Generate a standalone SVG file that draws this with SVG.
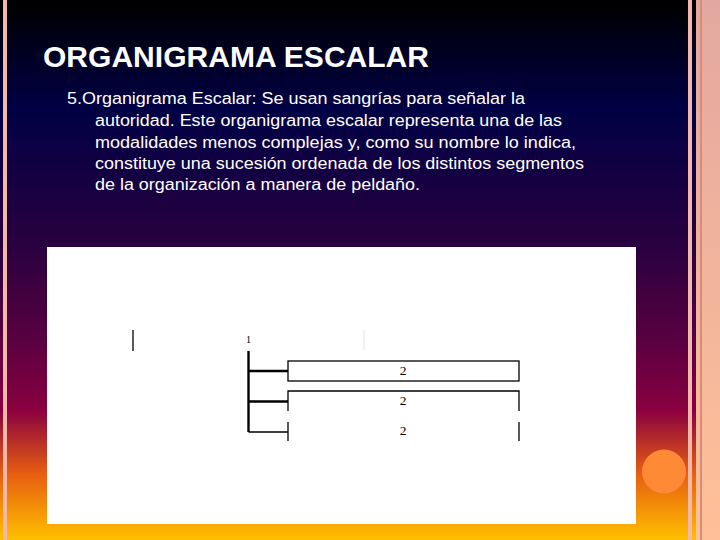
<svg xmlns="http://www.w3.org/2000/svg" width="720" height="540" viewBox="0 0 720 540">
<defs>
<linearGradient id="bg" x1="0" y1="0" x2="0" y2="1">
<stop offset="0" stop-color="#000000"/>
<stop offset="0.2" stop-color="#000045"/>
<stop offset="0.45" stop-color="#28003f"/>
<stop offset="0.62" stop-color="#560040"/>
<stop offset="0.76" stop-color="#8a0040"/>
<stop offset="0.88" stop-color="#e86010"/>
<stop offset="1" stop-color="#ffc000"/>
</linearGradient>
<linearGradient id="side" x1="0" y1="0" x2="0" y2="1">
<stop offset="0" stop-color="#e2a8a0"/>
<stop offset="1" stop-color="#ffc098"/>
</linearGradient>
</defs>
<style>
.title{font-family:"Liberation Sans",Arial,sans-serif;font-size:30px;font-weight:bold;fill:#ffffff}
.body{font-family:"Liberation Sans",Arial,sans-serif;font-size:16px;fill:#ffffff}
.box{fill:none;stroke:#000;stroke-width:1.3}
.lbl{font-family:"Liberation Serif","Times New Roman",serif;font-size:13.5px;fill:#000;text-anchor:middle}
.thick{stroke:#000;stroke-width:2.4;fill:none}
.thin{stroke:#000;stroke-width:1.3;fill:none}
</style>
<rect x="0" y="0" width="720" height="540" fill="url(#bg)"/>
<rect x="3" y="0" width="4" height="540" fill="#f4b8a8"/>
<rect x="688" y="0" width="4" height="540" fill="#f2b8ac"/>
<rect x="696" y="0" width="24" height="540" fill="url(#side)"/>
<rect x="700" y="0" width="2" height="540" fill="#d88c78"/>
<circle cx="664" cy="471.5" r="22" fill="#ff8a35"/>
<text class="title" x="43" y="67" textLength="386" lengthAdjust="spacingAndGlyphs">ORGANIGRAMA ESCALAR</text>
<text class="body" x="67" y="104" textLength="458" lengthAdjust="spacingAndGlyphs">5.Organigrama Escalar: Se usan sangrías para señalar la</text>
<text class="body" x="95" y="126" textLength="467" lengthAdjust="spacingAndGlyphs">autoridad. Este organigrama escalar representa una de las</text>
<text class="body" x="95" y="148" textLength="481" lengthAdjust="spacingAndGlyphs">modalidades menos complejas y, como su nombre lo indica,</text>
<text class="body" x="95" y="169" textLength="489" lengthAdjust="spacingAndGlyphs">constituye una sucesión ordenada de los distintos segmentos</text>
<text class="body" x="95" y="190" textLength="325" lengthAdjust="spacingAndGlyphs">de la organización a manera de peldaño.</text>
<rect x="47" y="247" width="589" height="277" fill="#ffffff"/>
<line x1="133" y1="330" x2="133" y2="351" class="thin"/>
<line x1="364" y1="330" x2="364" y2="350" stroke="#e4e4e4" stroke-width="1"/>
<g id="node1">
<text x="248.5" y="343" font-family="Liberation Serif, serif" font-size="10" fill="#000" text-anchor="middle">1</text>
</g>
<g id="node2a">
<rect class="box" x="288" y="361" width="231" height="20"/>
<text class="lbl" x="403" y="375">2</text>
</g>
<g id="node2b">
<path class="box" d="M288 411 V391 H519 V411"/>
<text class="lbl" x="403" y="405">2</text>
</g>
<g id="node2c">
<path class="box" d="M288 422 V441 M519 422 V441"/>
<text class="lbl" x="403" y="435">2</text>
</g>
<g id="connectors">
<line class="thick" x1="248.5" y1="351" x2="248.5" y2="432"/>
<line class="thick" x1="248.5" y1="371" x2="288" y2="371"/>
<line class="thick" x1="248.5" y1="401.5" x2="288" y2="401.5"/>
<line class="thin" x1="248.5" y1="432" x2="288" y2="432"/>
</g>
</svg>
